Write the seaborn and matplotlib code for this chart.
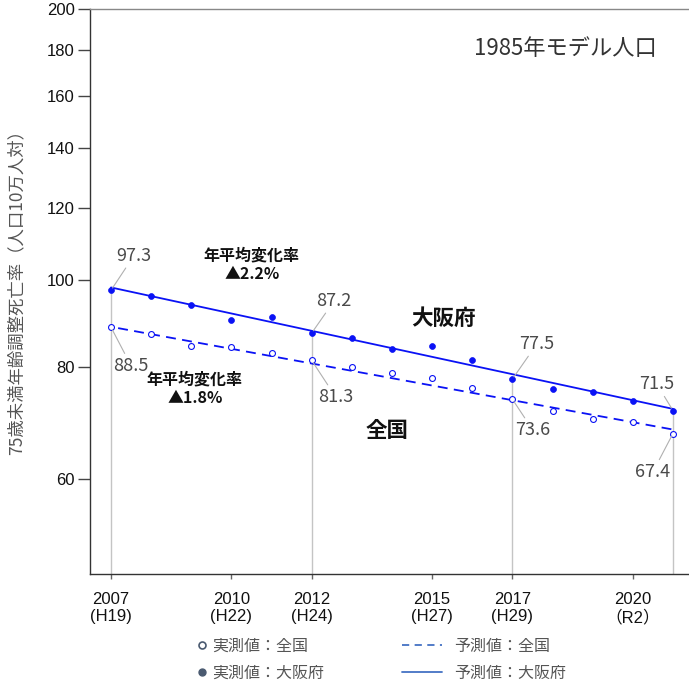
import numpy as np
import pandas as pd
import matplotlib
matplotlib.use("Agg")
import matplotlib.pyplot as plt
from matplotlib.lines import Line2D
from matplotlib.ticker import FixedLocator, NullLocator, FixedFormatter
import seaborn as sns

# data
years = list(range(2007, 2022))
osaka = [97.3, 95.9, 93.7, 90.2, 90.8, 87.2, 86.1, 83.6, 84.3, 81.3, 77.5, 75.6, 74.9, 73.3, 71.5]
national = [88.5, 87.0, 84.3, 84.2, 82.9, 81.3, 79.9, 78.8, 77.7, 75.8, 73.6, 71.5, 69.9, 69.4, 67.4]

pred_years = [2007, 2021]
pred_osaka = [98.0, 71.8]
pred_national = [88.6, 68.1]

xtick_years = [2007, 2010, 2012, 2015, 2017, 2020]
xtick_labels = ["2007\n(H19)", "2010\n(H22)", "2012\n(H24)", "2015\n(H27)", "2017\n(H29)", "2020\n（R2）"]
ytick_values = [60, 80, 100, 120, 140, 160, 180, 200]

# highlighted years with value labels
mark_years = [2007, 2012, 2017, 2021]

sns.set_style("white")
plt.rcParams['font.family'] = ['Noto Sans CJK JP', 'DejaVu Sans']

df = pd.DataFrame({"year": years, "osaka": osaka, "national": national})
pred_df = pd.DataFrame({"year": pred_years, "osaka": pred_osaka, "national": pred_national})

fig = plt.figure(figsize=(6.89, 6.89), dpi=100)
ax = fig.add_axes([89.5 / 689, 1 - 574.3 / 689, 1 - 89.5 / 689, (574.3 - 9) / 689])

ax.set_yscale("log")
ax.set_ylim(47, 200)
ax.set_xlim(2006.464, 2021.4)

# grey vertical guide lines
for yr in mark_years:
    v = df.loc[df.year == yr, "osaka"].iloc[0]
    ax.plot([yr, yr], [47, v], color="#c4c4c4", lw=1.0, zorder=1)

BLUE = "#0a12f5"
# prediction lines
sns.lineplot(data=pred_df, x="year", y="osaka", ax=ax, color=BLUE, lw=1.3, zorder=3)
sns.lineplot(data=pred_df, x="year", y="national", ax=ax, color=BLUE, lw=1.3, zorder=3)
ax.lines[-1].set_linestyle((5, (5.5, 3.5)))

# measured points
sns.scatterplot(data=df, x="year", y="osaka", ax=ax, color=BLUE, s=18, edgecolor=BLUE,
                linewidth=0.5, zorder=4)
sns.scatterplot(data=df, x="year", y="national", ax=ax, facecolor="white", s=18,
                edgecolor=BLUE, linewidth=0.8, zorder=4)

# value labels with leader lines
label_pos = {
    ("osaka", 2007): (2007.57, 106.3),
    ("national", 2007): (2007.5, 80.2),
    ("osaka", 2012): (2012.56, 94.7),
    ("national", 2012): (2012.6, 74.0),
    ("osaka", 2017): (2017.61, 84.8),
    ("national", 2017): (2017.51, 68.0),
    ("osaka", 2021): (2020.6, 76.5),
    ("national", 2021): (2020.5, 61.1),
}
for (series, yr), (tx, ty) in label_pos.items():
    v = df.loc[df.year == yr, series].iloc[0]
    ax.annotate(f"{v:.1f}", xy=(yr, v), xytext=(tx, ty), textcoords="data",
                ha="center", va="center", fontsize=13, color="#4a4a4a",
                arrowprops=dict(arrowstyle="-", color="#b0b0b0", lw=0.8,
                                shrinkA=0, shrinkB=2), zorder=5)

ax.text(2010.51, 103.97, "年平均変化率\n▲2.2%", ha="center", va="center",
        fontsize=11.5, fontweight="bold", linespacing=1.2, color="#111111")
ax.text(2009.09, 75.65, "年平均変化率\n▲1.8%", ha="center", va="center",
        fontsize=11.5, fontweight="bold", linespacing=1.2, color="#111111")
ax.text(2015.27, 90.6, "大阪府", ha="center", va="center", fontsize=15.5,
        fontweight="bold", color="#111111")
ax.text(2013.88, 68.0, "全国", ha="center", va="center", fontsize=15.5,
        fontweight="bold", color="#111111")
ax.text(0.793, 0.931, "1985年モデル人口", transform=ax.transAxes, ha="center",
        va="center", fontsize=16, color="#333333")

# axes styling
ax.yaxis.set_major_locator(FixedLocator(ytick_values))
ax.yaxis.set_major_formatter(FixedFormatter([str(v) for v in ytick_values]))
ax.yaxis.set_minor_locator(NullLocator())
ax.set_xticks(xtick_years)
ax.set_xticklabels(xtick_labels, family=['Liberation Sans', 'Noto Sans CJK JP'],
                   fontsize=12, color="#111111", linespacing=1.2)
for lab in ax.get_yticklabels():
    lab.set_family(['Liberation Sans', 'Noto Sans CJK JP'])
ax.tick_params(axis="y", which="major", direction="out", length=8.5, width=1,
               color="#444444", labelsize=12, labelcolor="#111111", pad=2, left=True)
ax.tick_params(axis="x", which="major", direction="out", length=3.6, width=1,
               color="#666666", pad=9, bottom=True)

ax.set_xlabel("")
ax.set_ylabel("75歳未満年齢調整死亡率（人口10万人対）", fontsize=12.5, color="#555555")
ax.yaxis.set_label_coords(-0.1076, 0.507)

for side in ["left", "bottom"]:
    ax.spines[side].set_color("#333333")
    ax.spines[side].set_linewidth(1.0)
ax.spines["top"].set_color("#888888")
ax.spines["top"].set_linewidth(1.0)
ax.spines["right"].set_visible(False)

# legends
marker_handles = [
    Line2D([], [], ls="none", marker="o", ms=5, mfc="white", mec="#4a5a70", mew=1.2),
    Line2D([], [], ls="none", marker="o", ms=5, mfc="#4a5a70", mec="#4a5a70"),
]
line_handles = [
    Line2D([], [], color="#4472c4", lw=1.3, ls=(0, (4, 3))),
    Line2D([], [], color="#4472c4", lw=1.3),
]
leg1 = fig.legend(marker_handles, ["実測値：全国", "実測値：大阪府"],
                  loc="upper left", bbox_to_anchor=(198 / 689, 1 - 638 / 689),
                  frameon=False, fontsize=11.5, handlelength=0.5, handletextpad=0.4,
                  labelspacing=0.6, borderpad=0, borderaxespad=0, labelcolor="#555555")
leg2 = fig.legend(line_handles, ["予測値：全国", "予測値：大阪府"],
                  loc="upper left", bbox_to_anchor=(402 / 689, 1 - 638 / 689),
                  frameon=False, fontsize=11.5, handlelength=2.5, handletextpad=0.75,
                  labelspacing=0.6, borderpad=0, borderaxespad=0, labelcolor="#555555")

fig.savefig("out.png", dpi=100)
